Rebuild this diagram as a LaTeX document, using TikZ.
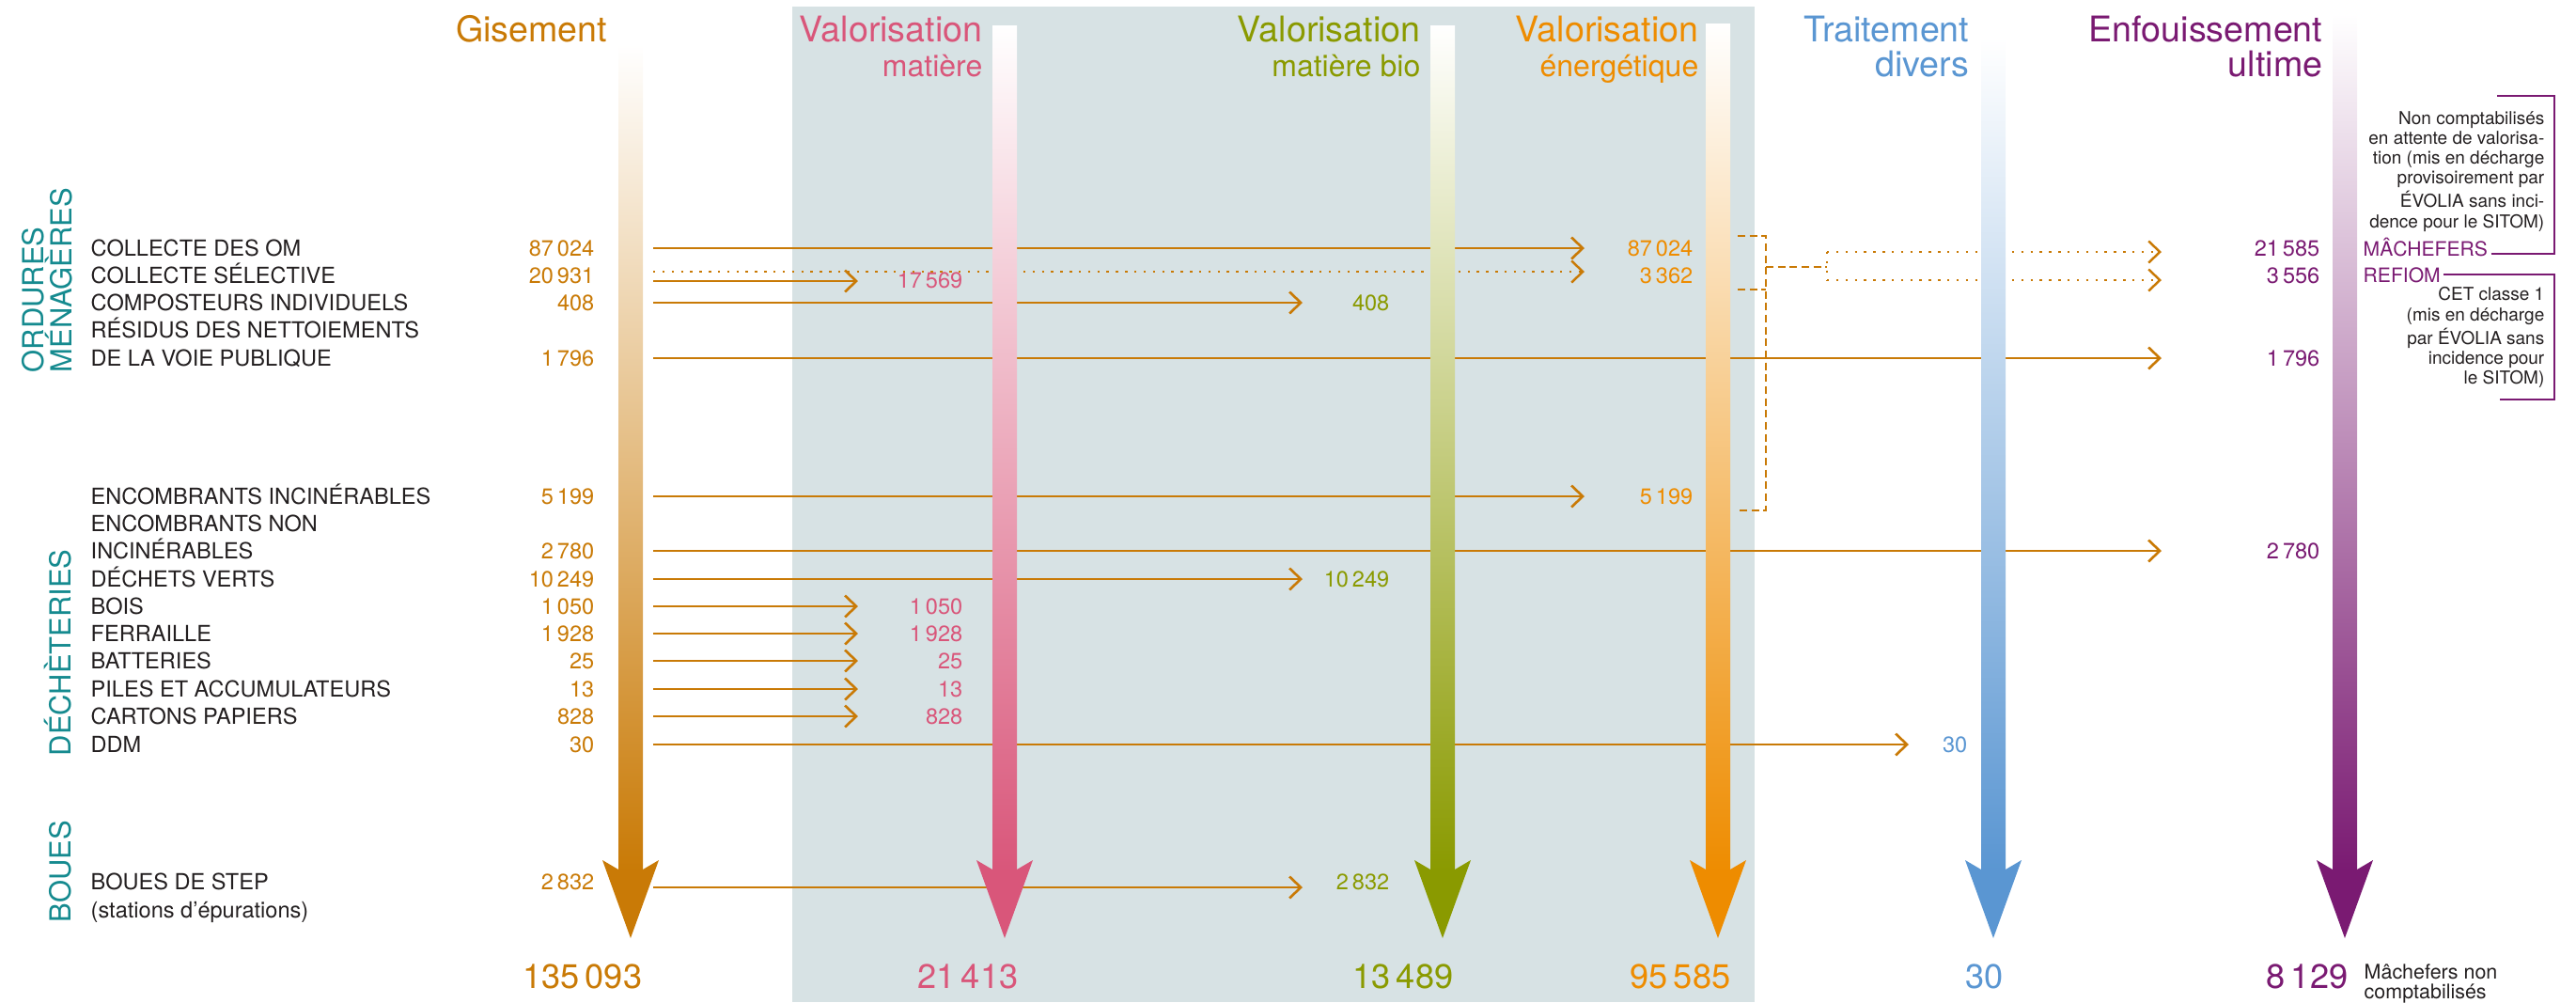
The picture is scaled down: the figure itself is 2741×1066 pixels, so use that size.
\documentclass[tikz,border=0pt]{standalone}
\usepackage{fontspec}
\setmainfont{TeX Gyre Heros}
\usetikzlibrary{arrows.meta,calc}

\definecolor{gisCol}{RGB}{201,122,6}
\definecolor{matCol}{RGB}{217,86,122}
\definecolor{bioCol}{RGB}{138,154,0}
\definecolor{eneCol}{RGB}{238,140,0}
\definecolor{traCol}{RGB}{90,150,210}
\definecolor{enfCol}{RGB}{122,26,114}
\definecolor{secCol}{RGB}{21,138,143}
\definecolor{bgCol}{RGB}{215,226,228}
\definecolor{txtCol}{RGB}{35,31,32}

\tikzset{
   lbl/.style={inner sep=0pt, text height=4.8pt, text depth=0pt, anchor=west,
      text=txtCol, font=\fontsize{6.7}{8}\selectfont},
   val/.style={inner sep=0pt, text height=4.8pt, text depth=0pt, anchor=east,
      font=\fontsize{6.7}{8}\selectfont},
   title/.style={inner sep=0pt, anchor=base east, font=\fontsize{10.7}{12}\selectfont},
   subtitle/.style={inner sep=0pt, anchor=base east, font=\fontsize{9.1}{11}\selectfont},
   total/.style={inner sep=0pt, text height=7.4pt, text depth=0pt, anchor=east,
      font=\fontsize{10.3}{12}\selectfont},
   section/.style={inner sep=0pt, anchor=base west, rotate=90, text=secCol,
      font=\fontsize{8.8}{10}\selectfont},
   tag/.style={inner sep=0pt, text height=4.3pt, text depth=0pt, anchor=west,
      text=enfCol, font=\fontsize{6}{7}\selectfont},
   note/.style={inner sep=0pt, align=right, text=txtCol, font=\fontsize{5.4}{6}\selectfont},
   flow/.style={draw=gisCol, line width=.75pt, -{Straight Barb[length=1.2mm,width=2.3mm]}},
   flowdot/.style={flow, line width=.7pt, dash pattern=on .7pt off 2.1pt},
   bracket/.style={draw=gisCol, line width=.75pt, dash pattern=on 2.3pt off 1.3pt},
   noteline/.style={draw=enfCol, line width=.7pt},
}

\begin{document}
\begin{tikzpicture}[x=0.01cm, y=-0.01cm]
   \useasboundingbox (0,0) rectangle (2741,1066);
   \fill[bgCol] (843,7) rectangle (1867,1066);
   % columns: start of the flows and tips for each destination
   \coordinate (gis) at (695,0);
   \coordinate (mat) at (913,0);
   \coordinate (bio) at (1386,0);
   \coordinate (ene) at (1686,0);
   \coordinate (tra) at (2031,0);
   \coordinate (enf) at (2300,0);
   \coordinate (sp) at (1944,284);

   \foreach \n/\y/\txt/\v in {om/264/COLLECTE DES OM/87\,024,
         sel/293/COLLECTE SÉLECTIVE/20\,931,
         comp/322/COMPOSTEURS INDIVIDUELS/408,
         voie/381/DE LA VOIE PUBLIQUE/1\,796,
         inc/528/ENCOMBRANTS INCINÉRABLES/5\,199,
         ninc/586/INCINÉRABLES/2\,780,
         dv/616/DÉCHETS VERTS/10\,249,
         bois/645/BOIS/1\,050,
         fer/674/FERRAILLE/1\,928,
         bat/703/BATTERIES/25,
         pil/733/PILES ET ACCUMULATEURS/13,
         car/762/CARTONS PAPIERS/828,
         ddm/792/DDM/30,
         boue/938/BOUES DE STEP/2\,832} {
      \node[lbl] (l-\n) at (96,\y) {\txt};
      \node[val, text=gisCol] (g-\n) at (633,\y) {\v};
   }
   \foreach \n/\y/\txt in {res/351/RÉSIDUS DES NETTOIEMENTS,
         enc/557/ENCOMBRANTS NON,
         ste/968/(stations d’épurations)} {
      \node[lbl] (l-\n) at (96,\y) {\txt};
   }

   \node[section] (s-ord) at (46,397) {ORDURES};
   \node[section] (s-men) at (76,397) {MÉNAGÈRES};
   \node[section] (s-dec) at (75,805) {DÉCHÈTERIES};
   \node[section] (s-bou) at (75,982) {BOUES};

   \node[val, text=matCol] (m-sel) at (1025,298) {17\,569};
   \foreach \n/\v in {bois/1\,050, fer/1\,928, bat/25, pil/13, car/828} {
      \node[val, text=matCol] (m-\n) at (1025,0 |- g-\n) {\v};
   }
   \node[val, text=bioCol] (b-comp) at (1479,322) {408};
   \node[val, text=bioCol] (b-dv) at (1479,616) {10\,249};
   \node[val, text=bioCol] (b-boue) at (1479,938) {2\,832};
   \node[val, text=eneCol] (e-om) at (1802,264) {87\,024};
   \node[val, text=eneCol] (e-sel) at (1802,293) {3\,362};
   \node[val, text=eneCol] (e-inc) at (1802,528) {5\,199};
   \node[val, text=traCol] (t-ddm) at (2094,792) {30};
   \node[val, text=enfCol] (u-mach) at (2469,264) {21\,585};
   \node[val, text=enfCol] (u-ref) at (2469,293) {3\,556};
   \node[val, text=enfCol] (u-voie) at (2469,381) {1\,796};
   \node[val, text=enfCol] (u-inc) at (2469,586) {2\,780};

   \draw[flow] (gis |- g-om) -- (ene |- g-om);
   \draw[flowdot] ($(gis |- g-sel)+(0,-4)$) -- ($(ene |- g-sel)+(0,-4)$);
   \draw[flow] ($(gis |- g-sel)+(0,6)$) -- ($(mat |- g-sel)+(0,6)$);
   \draw[flow] (gis |- g-comp) -- (bio |- g-comp);
   \draw[flow] (gis |- g-voie) -- (enf |- g-voie);
   \draw[flow] (gis |- g-inc) -- (ene |- g-inc);
   \draw[flow] (gis |- g-ninc) -- (enf |- g-ninc);
   \draw[flow] (gis |- g-dv) -- (bio |- g-dv);
   \foreach \n in {bois, fer, bat, pil, car} {
      \draw[flow] (gis |- g-\n) -- (mat |- g-\n);
   }
   \draw[flow] (gis |- g-ddm) -- (tra |- g-ddm);
   \draw[flow] ($(gis |- g-boue)+(0,6)$) -- ($(bio |- g-boue)+(0,6)$);

   \draw[bracket] (1849,251) -- (1879,251) -- (1879,543) -- (1849,543);
   \draw[bracket] (1849,308) -- (1879,308);
   \draw[bracket] (1879,284) -- (sp);
   \draw[flowdot, -] ($(sp |- u-mach)+(0,4)$) -- ($(sp |- u-ref)+(0,5)$);
   \draw[flowdot] ($(sp |- u-mach)+(0,4)$) -- ($(enf |- u-mach)+(0,4)$);
   \draw[flowdot] ($(sp |- u-ref)+(0,5)$) -- ($(enf |- u-ref)+(0,5)$);

   \foreach \cx/\top/\col in {671/47/gisCol, 1069/27/matCol, 1535/27/bioCol,
         1828/25/eneCol, 2121/40/traCol, 2495/15/enfCol} {
      \shade[top color=white, middle color=\col!30, bottom color=\col]
         (\cx-13,\top) rectangle (\cx+13,927);
      \fill[\col] (\cx-13,925) -- (\cx-30,915) -- (\cx,998) -- (\cx+30,915)
         -- (\cx+13,925) -- cycle;
   }

   \node[title, text=gisCol] (t-gis) at (647,44) {Gisement};
   \node[title, text=matCol] (t-mat) at (1046,44) {Valorisation};
   \node[subtitle, text=matCol] (t-mat2) at (1046,81) {matière};
   \node[title, text=bioCol] (t-bio) at (1512,44) {Valorisation};
   \node[subtitle, text=bioCol] (t-bio2) at (1512,81) {matière bio};
   \node[title, text=eneCol] (t-ene) at (1808,44) {Valorisation};
   \node[subtitle, text=eneCol] (t-ene2) at (1808,81) {énergétique};
   \node[title, text=traCol] (t-tra) at (2096,44) {Traitement};
   \node[title, text=traCol] (t-tra2) at (2096,81) {divers};
   \node[title, text=enfCol] (t-enf) at (2472,44) {Enfouissement};
   \node[title, text=enfCol] (t-enf2) at (2472,81) {ultime};

   \node[total, text=gisCol] (tot-gis) at (684,1038) {135\,093};
   \node[total, text=matCol] (tot-mat) at (1084,1038) {21\,413};
   \node[total, text=bioCol] (tot-bio) at (1547,1038) {13\,489};
   \node[total, text=eneCol] (tot-ene) at (1842,1038) {95\,585};
   \node[total, text=traCol] (tot-tra) at (2132,1038) {30};
   \node[total, text=enfCol] (tot-enf) at (2499,1038) {8\,129};
   \node[note, align=left, anchor=north west, font=\fontsize{6.1}{6}\selectfont]
      (n-tot) at (2515,1025) {Mâchefers non\\comptabilisés};

   \node[tag] (mach) at (2514,265) {MÂCHEFERS};
   \node[tag] (refiom) at (2514,293) {REFIOM};
   \draw[noteline] ($(mach.east)+(3,5)$) -| (2718,102) -- (2657,102);
   \draw[noteline] ($(refiom.east)+(3,-1)$) -| (2718,425) -- (2660,425);
   \node[note, anchor=north east] (n-mach) at (2708,118)
      {Non comptabilisés\\en attente de valorisa-\\tion (mis en décharge\\provisoirement par\\ÉVOLIA sans inci-\\dence pour le SITOM)};
   \node[note, anchor=north east] (n-ref) at (2708,305)
      {CET classe 1\\(mis en décharge\\par ÉVOLIA sans\\incidence pour\\le SITOM)};
\end{tikzpicture}
\end{document}
